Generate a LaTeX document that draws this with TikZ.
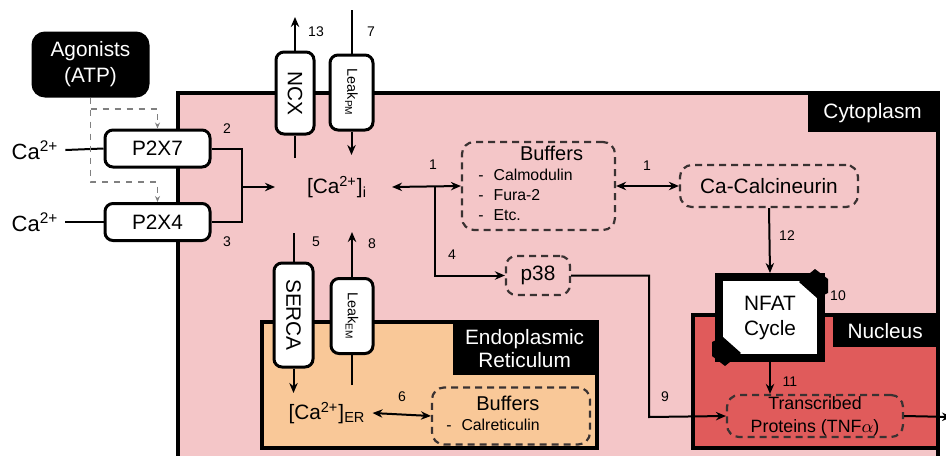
\documentclass[tikz,border=0pt]{standalone}
\usepackage{fontspec}
\setmainfont{Liberation Sans}
\usetikzlibrary{arrows.meta}
\definecolor{cytopink}{HTML}{F4C6C8}
\definecolor{erorange}{HTML}{F9C898}
\definecolor{nucred}{HTML}{E05B5B}
\definecolor{dashgrey}{HTML}{3A3232}
\begin{document}
\begin{tikzpicture}[x=0.5pt,y=-0.5pt,
        every node/.style={font=\fontsize{10.4}{12.5}\selectfont},
        arw/.style={-{Stealth[length=5pt,width=4.2pt]}},
        dblarw/.style={{Stealth[length=5pt,width=4.2pt]}-{Stealth[length=5pt,width=4.2pt]}},
        link/.style={line width=1pt},
        chan/.style={draw,fill=white,rounded corners=4pt,line width=1.5pt,inner sep=0pt},
        vchan/.style={chan,rotate=-90},
        pool/.style={draw=dashgrey,dash pattern=on 3.5pt off 2.5pt,line width=1.1pt,rounded corners=6pt,inner sep=0pt},
        tag/.style={fill=black,text=white,inner sep=0pt},
        num/.style={font=\fontsize{7}{8}\selectfont,inner sep=0pt},
        region/.style={draw,line width=2pt},
        agdash/.style={draw=gray,dashed,line width=0.6pt,-{Stealth[length=3pt,width=2.5pt]}}]
        \useasboundingbox (0,0) rectangle (946,455);
        % compartments
        \draw[region,fill=cytopink] (178,93) rectangle (938,480);
        \node[tag,minimum width=65pt,minimum height=19.5pt,anchor=north east] (cytotag) at (938,93) {Cytoplasm};
        \draw[region,fill=erorange] (262,322) rectangle (597,448);
        \node[tag,minimum width=72pt,minimum height=26.5pt,anchor=north east,align=center,font=\fontsize{10.4}{11.5}\selectfont] (ertag) at (597,322) {Endoplasmic\\Reticulum};
        \draw[region,fill=nucred] (693,315) rectangle (938,448);
        \node[tag,minimum width=52.5pt,minimum height=16pt,anchor=north east] (nuctag) at (938,315) {Nucleus};

        % plasma membrane entry
        \node[chan,fill=black,text=white,minimum width=57.5pt,minimum height=31.5pt,align=center,rounded corners=6pt,font=\fontsize{10.4}{13}\selectfont] (agon) at (90.5,64.5) {Agonists\\(ATP)};
        \node[chan,minimum width=52.5pt,minimum height=18.5pt] (p2x7) at (157.5,148.5) {P2X7};
        \node[chan,minimum width=52.5pt,minimum height=18.5pt] (p2x4) at (157.5,222) {P2X4};
        \node[font=\fontsize{11}{13}\selectfont] (ca7) at (35,150) {Ca\textsuperscript{2+}};
        \node[font=\fontsize{11}{13}\selectfont] (ca4) at (35,222) {Ca\textsuperscript{2+}};
        \draw[link] (ca7.east) -- (p2x7.west);
        \draw[link] (ca4.east) -- (p2x4.west);
        \coordinate (ag7) at (90.5,109);
        \coordinate (ag4) at (157.5,182);
        \draw[agdash] (agon.south) |- (ag4) -- (p2x4.north);
        \draw[agdash] (ag7) -| (p2x7.north);
        \coordinate (merge) at (242,187);
        \coordinate (inflow) at (275,187);
        \draw[link] (p2x7.east) -| (merge) |- (p2x4.east);
        \draw[link,arw] (merge) -- (inflow);
        \node[num] (n2) at (227,129) {2};
        \node[num] (n3) at (227,242) {3};

        % NCX and plasma membrane leak
        \node[vchan,minimum width=41pt,minimum height=19pt] (ncx) at (295,93) {NCX};
        \coordinate (ncxin) at (295,158);
        \coordinate (ncxout) at (295,17);
        \draw[link] (ncxin) -- (ncx.east);
        \draw[link,arw] (ncx.west) -- (ncxout);
        \node[num] (n13) at (316,32) {13};
        \node[vchan,minimum width=37.5pt,minimum height=21.5pt,font=\fontsize{7.2}{8}\selectfont] (leakpm) at (351.5,92.5) {Leak\textsubscript{PM}};
        \coordinate (pmleaktop) at (351.5,10);
        \coordinate (pmleakend) at (351.5,155);
        \draw[link] (pmleaktop) -- (leakpm.west);
        \draw[link,arw] (leakpm.east) -- (pmleakend);
        \node[num] (n7) at (371,32) {7};

        % cytosolic calcium
        \node (cai) at (337,187) {[Ca\textsuperscript{2+}]\textsubscript{i}};
        \node[pool,minimum width=76.5pt,minimum height=44pt,font=\fontsize{7.9}{10}\selectfont] (buf) at (538.5,186)
            {\begin{tabular}{@{}l@{\hspace{13pt}}}
             \multicolumn{1}{@{\hspace{13pt}}c@{}}{\fontsize{10}{12}\selectfont Buffers}\\
             -\hspace{5pt}Calmodulin\\
             -\hspace{5pt}Fura-2\\
             -\hspace{5pt}Etc.
             \end{tabular}};
        \node[pool,minimum width=89pt,minimum height=21pt] (calc) at (769,186) {Ca-Calcineurin};
        \node[pool,minimum width=32pt,minimum height=19.5pt,rounded corners=5pt] (p38) at (538,275.5) {p38};
        \draw[link,dblarw] ([xshift=9pt]cai.east) -- (buf.west);
        \draw[link,dblarw] (buf.east) -- (calc.west);
        \coordinate (fork) at (435,187);
        \draw[link,arw] (fork) |- (p38.west);
        \node[num] (n1a) at (433,165) {1};
        \node[num] (n1b) at (647,166) {1};
        \node[num] (n4) at (452,255) {4};

        % NFAT and nucleus
        \node[draw,fill=white,line width=4pt,minimum width=51pt,minimum height=40.5pt,align=center,inner sep=0pt] (nfat) at (770,317.5) {NFAT\\Cycle};
        \fill (799,282) -- (815,269) -- (828,279) -- (828,293) -- (817,298) -- cycle;
        \fill (741,353) -- (725,366) -- (712,356) -- (712,342) -- (723,337) -- cycle;
        \node[num] (n10) at (838,296) {10};
        \draw[link,arw] (calc.south) -- (nfat.north);
        \node[num] (n12) at (787,236) {12};
        \node[pool,minimum width=88pt,minimum height=21pt,align=center,font=\fontsize{8.9}{11.5}\selectfont] (trans) at (815,416) {Transcribed\\Proteins (TNF$\alpha$)};
        \draw[link,arw] (nfat.south) -- (nfat.south |- trans.north);
        \node[num] (n11) at (790,382) {11};
        \coordinate (bend9) at (649,417);
        \draw[link,arw] (p38.east) -| (bend9) -- (trans.west);
        \node[num] (n9) at (665,397) {9};
        \coordinate (export) at (952,417);
        \draw[link,arw] (trans.east) -- (export);

        % endoplasmic reticulum
        \node[vchan,minimum width=52pt,minimum height=19.5pt] (serca) at (293.5,315) {SERCA};
        \coordinate (sercatop) at (293.5,233);
        \coordinate (sercaend) at (293.5,393);
        \draw[link] (sercatop) -- (serca.west);
        \draw[link,arw] (serca.east) -- (sercaend);
        \node[num] (n5) at (316,242) {5};
        \node[vchan,minimum width=37.5pt,minimum height=21pt,font=\fontsize{7.2}{8}\selectfont] (leakem) at (352,316) {Leak\textsubscript{EM}};
        \coordinate (emleakbase) at (352,385);
        \coordinate (emleakend) at (352,232);
        \draw[link] (emleakbase) -- (leakem.east);
        \draw[link,arw] (leakem.west) -- (emleakend);
        \node[num] (n8) at (372,244) {8};
        \node (caer) at (327,413) {[Ca\textsuperscript{2+}]\textsubscript{ER}};
        \node[pool,minimum width=79pt,minimum height=28.5pt,font=\fontsize{7.9}{10}\selectfont] (bufer) at (511,416)
            {\begin{tabular}{@{}l@{\hspace{18pt}}}
             \multicolumn{1}{@{\hspace{15pt}}l@{}}{\fontsize{10}{12}\selectfont Buffers}\\
             -\hspace{5pt}Calreticulin
             \end{tabular}};
        \draw[link,dblarw] (caer.east) -- (bufer.west);
        \node[num] (n6) at (402,397) {6};
    \end{tikzpicture}
\end{document}
